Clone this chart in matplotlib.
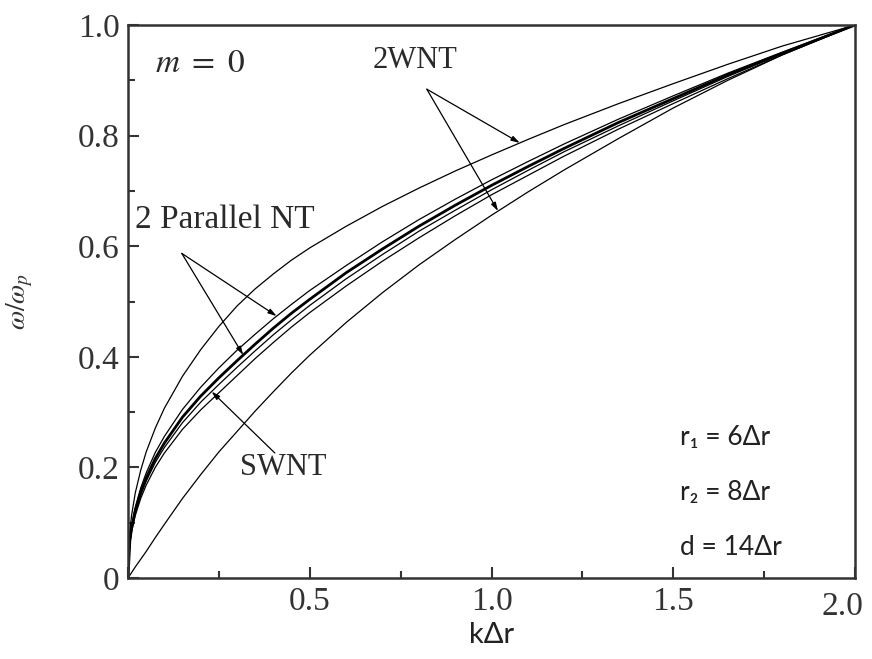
import numpy as np
import matplotlib
matplotlib.use("Agg")
import matplotlib.pyplot as plt

plt.rcParams['mathtext.fontset'] = 'stix'

# k*dr values where the curves were read
k = [0, 0.005, 0.01, 0.02, 0.035, 0.05, 0.075, 0.1, 0.15, 0.2, 0.25, 0.3, 0.35,
     0.4, 0.45, 0.5, 0.6, 0.7, 0.8, 0.9, 1.0, 1.1, 1.2, 1.35, 1.5, 1.65, 1.8, 2.0]

# 2WNT, upper and lower branch
wnt_upper = [0, 0.085, 0.114, 0.154, 0.195, 0.228, 0.271, 0.307, 0.365, 0.413, 0.455,
             0.492, 0.523, 0.55, 0.575, 0.597, 0.636, 0.672, 0.705, 0.736, 0.765,
             0.793, 0.82, 0.858, 0.894, 0.929, 0.962, 1.0]
wnt_lower = [0, 0.005, 0.01, 0.02, 0.034, 0.048, 0.073, 0.097, 0.144, 0.187, 0.228,
             0.265, 0.302, 0.337, 0.371, 0.403, 0.462, 0.516, 0.566, 0.612, 0.656,
             0.698, 0.738, 0.795, 0.85, 0.90, 0.946, 1.0]

# 2 parallel NT, two branches (lower one drawn thick)
par_upper = [0, 0.071, 0.095, 0.128, 0.163, 0.19, 0.227, 0.256, 0.305, 0.345, 0.38,
             0.412, 0.441, 0.469, 0.495, 0.52, 0.565, 0.608, 0.648, 0.685, 0.72,
             0.753, 0.785, 0.83, 0.872, 0.913, 0.951, 1.0]
par_lower = [0, 0.067, 0.091, 0.122, 0.155, 0.181, 0.216, 0.244, 0.291, 0.329, 0.362,
             0.393, 0.423, 0.452, 0.479, 0.504, 0.552, 0.595, 0.636, 0.674, 0.71,
             0.744, 0.777, 0.824, 0.867, 0.91, 0.949, 1.0]

# SWNT and the line next to it
swnt = [0, 0.065, 0.088, 0.118, 0.15, 0.175, 0.209, 0.236, 0.281, 0.318, 0.35,
        0.381, 0.411, 0.44, 0.467, 0.493, 0.541, 0.585, 0.627, 0.665, 0.702,
        0.737, 0.771, 0.818, 0.863, 0.907, 0.948, 1.0]
swnt2 = [0, 0.062, 0.084, 0.113, 0.144, 0.168, 0.2, 0.226, 0.269, 0.304, 0.335,
         0.366, 0.397, 0.426, 0.454, 0.48, 0.528, 0.573, 0.615, 0.655, 0.693,
         0.728, 0.763, 0.812, 0.858, 0.903, 0.946, 1.0]

fig = plt.figure(figsize=(8.72, 6.59), dpi=100)
ax = fig.add_axes([0.1468, 0.1229, 0.8337, 0.8391])

thin = dict(color='black', lw=0.9)
ax.plot(k, wnt_upper, **thin)
ax.plot(k, wnt_lower, **thin)
ax.plot(k, par_upper, **thin)
ax.plot(k, swnt, **thin)
ax.plot(k, swnt2, **thin)
ax.plot(k, par_lower, color='black', lw=2.0)

ax.set_xlim(0, 2.0)
ax.set_ylim(0, 1.0)
ax.set_xticks([0, 0.5, 1.0, 1.5, 2.0])
ax.set_xticklabels(['', '0.5', '1.0', '1.5', ''])
ax.set_xticks([0.25, 0.75, 1.25, 1.75], minor=True)
ax.set_yticks([0, 0.2, 0.4, 0.6, 0.8, 1.0])
ax.set_yticklabels(['0', '0.2', '0.4', '0.6', '0.8', '1.0'])
ax.set_yticks([0.1, 0.3, 0.5, 0.7, 0.9], minor=True)
ax.tick_params(which='both', direction='in', top=False, right=False,
               color='#333333', width=1.5)
ax.tick_params(which='major', length=8, pad=6, labelsize=24, labelcolor='#333333')
ax.tick_params(which='minor', length=5)
for lab in ax.get_xticklabels() + ax.get_yticklabels():
    lab.set_family('Liberation Serif')
for s in ax.spines.values():
    s.set_linewidth(1.8)
    s.set_color('#333333')

# last x label pulled in a little so it stays inside the figure
ax.annotate('2.0', xy=(2.0, 0), xytext=(-9, -10), textcoords='offset points',
            ha='center', va='top', family='Liberation Serif', fontsize=24,
            color='#333333', annotation_clip=False)

ax.set_ylabel(r'$\omega/\omega_p$', fontsize=20, color='#333333')
ax.yaxis.set_label_coords(-0.128, 0.5)
ax.set_xlabel('kΔr', fontsize=21, family='Lato', color='#222222', labelpad=4)

serif = dict(family='Liberation Serif', fontsize=22, color='#2a2a2a', va='center')
ax.text(0.074, 0.933, r'$m\ =\ 0$', fontsize=24, color='#2a2a2a', va='center')
ax.text(0.674, 0.935, '2WNT', **serif)
ax.text(0.018, 0.647, '2 Parallel NT', family='Liberation Serif', fontsize=24,
        color='#2a2a2a', va='center')
ax.text(0.308, 0.199, 'SWNT', **serif)

sans = dict(family='Lato', fontsize=19, color='#222222', va='center')
ax.text(1.519, 0.255, 'r₁ = 6Δr', **sans)
ax.text(1.519, 0.154, 'r₂ = 8Δr', **sans)
ax.text(1.519, 0.056, 'd = 14Δr', **sans)


def pointer(start, kt, curve):
    ax.annotate('', xy=(kt, np.interp(kt, k, curve)), xytext=start,
                arrowprops=dict(arrowstyle='-|>,head_length=0.5,head_width=0.15',
                                color='black', lw=0.9, shrinkA=0, shrinkB=0))


pointer((0.822, 0.884), 1.078, wnt_upper)
pointer((0.822, 0.884), 1.018, wnt_lower)
pointer((0.148, 0.587), 0.409, par_upper)
pointer((0.148, 0.587), 0.317, par_lower)
pointer((0.404, 0.226), 0.23, swnt)

fig.savefig('out.png', dpi=100)
